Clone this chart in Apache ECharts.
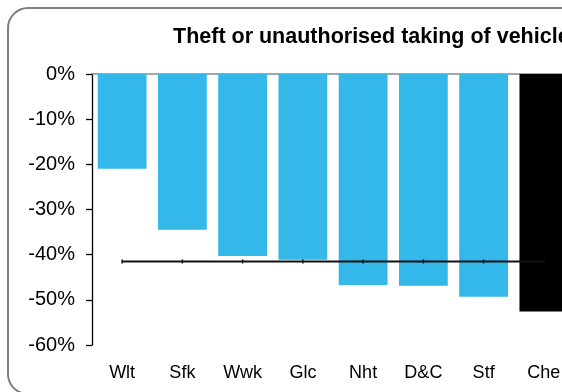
<!DOCTYPE html>
<html>
<head>
<meta charset="utf-8">
<script src="https://cdn.jsdelivr.net/npm/echarts@6/dist/echarts.min.js"></script>
<style>
html,body{margin:0;padding:0;background:#fff;overflow:hidden;width:562px;height:392px;}
#chart{width:640px;height:392px;}
</style>
</head>
<body>
<div id="chart"></div>
<script>
const titleText = 'Theft or unauthorised taking of vehicles';
const categories = ['Wlt', 'Sfk', 'Wwk', 'Glc', 'Nht', 'D&C', 'Stf', 'Che'];
const changeValues = [-21.0, -34.5, -40.3, -41.1, -46.7, -46.9, -49.3, -52.6];
const averageValues = [-41.5, -41.5, -41.5, -41.5, -41.5, -41.5, -41.5, -41.5];
const highlightCategory = 'Che';
const yTicks = [0, -10, -20, -30, -40, -50, -60];

const FONT = 'Arial, "Liberation Sans", sans-serif';
const chart = echarts.init(document.getElementById('chart'), null, {renderer: 'canvas'});

chart.setOption({
  animation: false,
  backgroundColor: '#fff',
  graphic: [{
    type: 'rect',
    shape: {x: 8, y: 8, width: 700, height: 386, r: 20},
    style: {fill: 'none', stroke: '#7f7f7f', lineWidth: 2},
    z: 100
  }],
  title: {
    text: titleText,
    left: 168,
    top: 21,
    textStyle: {fontFamily: FONT, fontSize: 21.5, fontWeight: 'bold', color: '#000'}
  },
  grid: {left: 92, top: 74, width: 482, height: 271, containLabel: false},
  xAxis: [{
    type: 'category',
    data: categories,
    position: 'bottom',
    axisLine: {show: false},
    axisTick: {show: false},
    axisLabel: {margin: 19, fontFamily: FONT, fontSize: 18, color: '#000'}
  }, {
    type: 'category',
    data: categories,
    position: 'top',
    axisLine: {show: true, onZero: false, lineStyle: {color: '#888', width: 1.5}},
    axisTick: {show: false},
    axisLabel: {show: false}
  }],
  yAxis: {
    type: 'value',
    min: Math.min(...yTicks),
    max: Math.max(...yTicks),
    interval: 10,
    axisLine: {show: true, lineStyle: {color: '#000', width: 1.3}},
    axisTick: {show: true, length: 6, lineStyle: {color: '#000', width: 1.3}},
    axisLabel: {margin: 17, fontFamily: FONT, fontSize: 20, color: '#000', formatter: '{value}%'},
    splitLine: {show: false}
  },
  series: [{
    type: 'bar',
    xAxisIndex: 0,
    data: changeValues.map((v, i) => ({
      value: v,
      itemStyle: {color: categories[i] === highlightCategory ? '#000000' : '#33B8E9'}
    })),
    barWidth: '81%',
    z: 2
  }, {
    type: 'line',
    xAxisIndex: 0,
    data: averageValues,
    symbol: 'rect',
    symbolSize: [1.5, 4],
    itemStyle: {color: '#111'},
    lineStyle: {color: '#111', width: 2},
    z: 3
  }]
});
</script>
</body>
</html>
